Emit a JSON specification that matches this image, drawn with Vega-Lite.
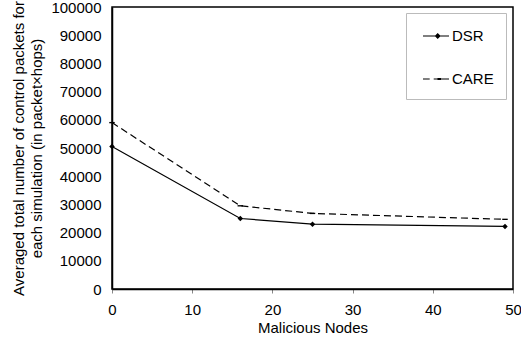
{
  "$schema": "https://vega.github.io/schema/vega-lite/v6.json",
  "width": 401,
  "height": 282,
  "autosize": {"type": "none"},
  "padding": {"left": 112, "top": 7, "right": 8, "bottom": 56},
  "background": "white",
  "config": {
    "font": "Liberation Sans",
    "view": {"stroke": "black", "strokeWidth": 1.5},
    "axis": {"grid": false, "labelFont": "Liberation Sans", "titleFont": "Liberation Sans", "labelFontSize": 15, "titleFontSize": 15, "labelColor": "black", "titleColor": "black", "titleFontWeight": "normal", "domainColor": "black", "tickColor": "#888"}
  },
  "data": {
    "values": [
      {"nodes": 0, "value": 50500, "series": "DSR"},
      {"nodes": 16, "value": 25000, "series": "DSR"},
      {"nodes": 25, "value": 23000, "series": "DSR"},
      {"nodes": 49, "value": 22200, "series": "DSR"},
      {"nodes": 0, "value": 59000, "series": "CARE"},
      {"nodes": 16, "value": 29500, "series": "CARE"},
      {"nodes": 25, "value": 26800, "series": "CARE"},
      {"nodes": 49, "value": 24700, "series": "CARE"}
    ]
  },
  "encoding": {
    "x": {"field": "nodes", "type": "quantitative", "scale": {"domain": [0, 50], "nice": false}, "axis": {"title": "Malicious Nodes", "values": [0, 10, 20, 30, 40, 50], "tickSize": 4, "labelPadding": 9, "titlePadding": 3, "domainWidth": 1.5, "labelFlush": false}},
    "y": {"field": "value", "type": "quantitative", "scale": {"domain": [0, 100000], "nice": false}, "axis": {"title": ["Averaged total number of control packets for", "each simulation (in packet×hops)"], "values": [0, 10000, 20000, 30000, 40000, 50000, 60000, 70000, 80000, 90000, 100000], "format": "d", "ticks": false, "labelPadding": 11, "titlePadding": 6, "titleLineHeight": 18, "domainWidth": 1.5, "labelFlush": false}}
  },
  "layer": [
    {
      "transform": [{"filter": "datum.series === 'DSR'"}],
      "mark": {"type": "line", "color": "black", "strokeWidth": 1.2},
      "encoding": {}
    },
    {
      "transform": [{"filter": "datum.series === 'CARE'"}],
      "mark": {"type": "line", "color": "black", "strokeWidth": 1.2, "strokeDash": [7, 4]},
      "encoding": {}
    },
    {
      "transform": [{"filter": "datum.series === 'DSR'"}],
      "mark": {"type": "point", "filled": true, "color": "black", "opacity": 1, "size": 30, "shape": "diamond"}
    },
    {
      "transform": [{"filter": "datum.series === 'CARE'"}],
      "mark": {"type": "point", "filled": true, "color": "black", "opacity": 1, "size": 30, "shape": "M-1,-0.25H1V0.25H-1Z"}
    },
    {
      "transform": [{"filter": "false"}],
      "mark": {"type": "point", "filled": true, "color": "black", "opacity": 1},
      "encoding": {
        "shape": {
          "field": "series", "type": "nominal",
          "scale": {"domain": ["DSR", "CARE"], "range": ["M-0.6,-0.05H2V0.05H-0.6ZM0.87,-0.3L1.17,0L0.87,0.3L0.57,0Z", "M-0.6,-0.05H0.07V0.05H-0.6ZM0.47,-0.05H2V0.05H0.47ZM0.85,-0.1H1.2V0.1H0.85Z"]},
          "legend": {
            "title": null,
            "orient": "none",
            "legendX": 294,
            "legendY": 6,
            "padding": 12,
            "strokeColor": "#bbbbbb",
            "fillColor": "white",
            "labelFontSize": 15,
            "labelFont": "Liberation Sans",
            "labelColor": "black",
            "rowPadding": 24,
            "symbolSize": 400,
            "labelOffset": 12,
            "symbolFillColor": "black"
          }
        }
      }
    }
  ]
}
